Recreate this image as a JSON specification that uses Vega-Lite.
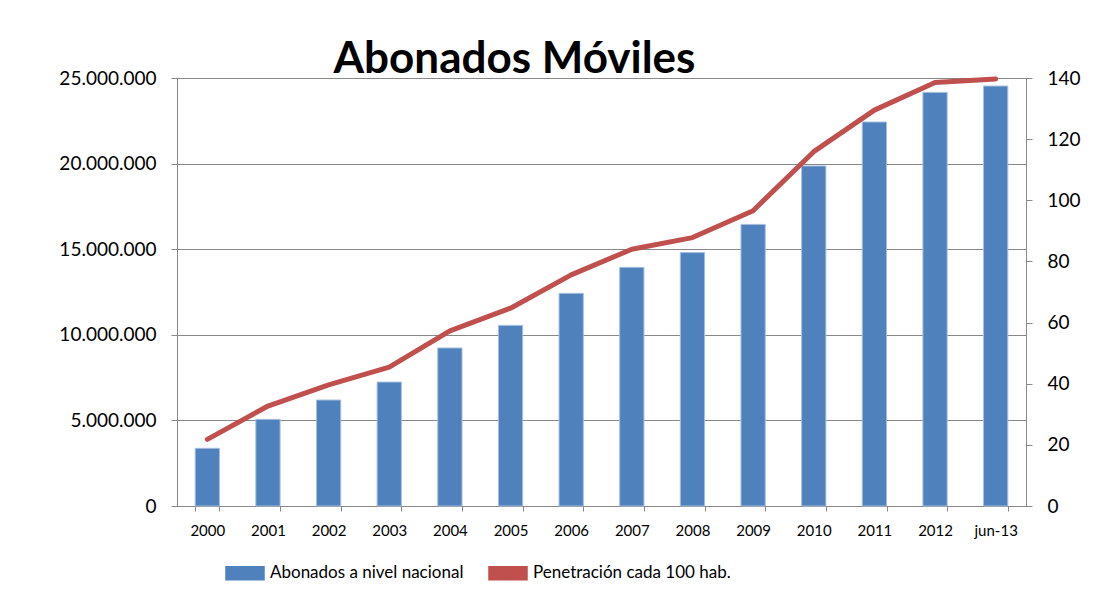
{
  "$schema": "https://vega.github.io/schema/vega-lite/v6.json",
  "width": 849,
  "height": 428,
  "autosize": {"type": "none"},
  "padding": {"left": 177, "top": 78, "right": 77, "bottom": 101},
  "background": "white",
  "title": {"text": "Abonados Móviles", "font": "Lato", "fontSize": 44, "fontWeight": "bold", "color": "black", "anchor": "middle", "dx": -87, "dy": 57, "baseline": "bottom", "offset": 0},
  "data": {"values": [
    {"periodo": "2000", "abonados": 3370000, "penetracion": 21.8},
    {"periodo": "2001", "abonados": 5060000, "penetracion": 32.7},
    {"periodo": "2002", "abonados": 6190000, "penetracion": 39.6},
    {"periodo": "2003", "abonados": 7240000, "penetracion": 45.4},
    {"periodo": "2004", "abonados": 9230000, "penetracion": 57.3},
    {"periodo": "2005", "abonados": 10550000, "penetracion": 64.7},
    {"periodo": "2006", "abonados": 12420000, "penetracion": 75.6},
    {"periodo": "2007", "abonados": 13940000, "penetracion": 84.0},
    {"periodo": "2008", "abonados": 14800000, "penetracion": 87.8},
    {"periodo": "2009", "abonados": 16450000, "penetracion": 96.6},
    {"periodo": "2010", "abonados": 19860000, "penetracion": 115.9},
    {"periodo": "2011", "abonados": 22430000, "penetracion": 129.5},
    {"periodo": "2012", "abonados": 24160000, "penetracion": 138.5},
    {"periodo": "jun-13", "abonados": 24530000, "penetracion": 139.7}
  ]},
  "encoding": {
    "x": {
      "field": "periodo", "type": "ordinal", "sort": null,
      "scale": {"paddingInner": 0.6, "paddingOuter": 0.3},
      "axis": {"title": null, "labelAngle": 0, "tickBand": "extent", "tickSize": 5, "labelPadding": 12, "domainColor": "#888888", "tickColor": "#888888", "labelFont": "Lato", "labelFontSize": 15, "labelColor": "black", "grid": false}
    }
  },
  "layer": [
    {
      "mark": {"type": "bar", "stroke": "#A7BFDE", "strokeWidth": 1},
      "encoding": {
        "y": {
          "field": "abonados", "type": "quantitative",
          "scale": {"domain": [0, 25000000], "nice": false},
          "axis": {"title": null, "orient": "left", "values": [0, 5000000, 10000000, 15000000, 20000000, 25000000], "labelExpr": "replace(format(datum.value, ','), regexp(',', 'g'), '.')", "grid": true, "gridColor": "#888888", "gridWidth": 1, "domainColor": "#888888", "tickColor": "#888888", "tickSize": 6, "labelPadding": 15, "labelFont": "Lato", "labelFontSize": 19, "labelColor": "black"}
        },
        "color": {
          "datum": "Abonados  a nivel nacional", "type": "nominal",
          "scale": {"domain": ["Abonados  a nivel nacional", "Penetración cada 100 hab."], "range": ["#4F81BD", "#C0504D"]},
          "legend": {
            "title": null, "orient": "none", "legendX": 48, "legendY": 475, "direction": "horizontal",
            "symbolType": "M-1,-0.34H1V0.34H-1Z", "symbolSize": 1444,
            "labelFont": "Lato", "labelFontSize": 17, "labelColor": "black", "labelOffset": 5, "labelLimit": 500, "columnPadding": 18,
            "encode": {
              "symbols": {"update": {
                "shape": {"signal": "datum.value === 'Abonados  a nivel nacional' ? 'M-1,-0.34H1V0.34H-1Z' : 'M-1,-0.07H1V0.07H-1Z'"},
                "fill": {"signal": "datum.value === 'Abonados  a nivel nacional' ? '#4F81BD' : '#C0504D'"},
                "strokeWidth": {"value": 0},
                "opacity": {"value": 1}
              }}
            }
          }
        }
      }
    },
    {
      "mark": {"type": "line", "strokeWidth": 5, "strokeCap": "round", "strokeJoin": "round"},
      "encoding": {
        "y": {
          "field": "penetracion", "type": "quantitative",
          "scale": {"domain": [0, 140], "nice": false},
          "axis": {"title": null, "orient": "right", "values": [0, 20, 40, 60, 80, 100, 120, 140], "grid": false, "domainColor": "#888888", "tickColor": "#888888", "tickSize": 6, "labelPadding": 15, "labelFont": "Lato", "labelFontSize": 19, "labelColor": "black"}
        },
        "color": {"datum": "Penetración cada 100 hab.", "type": "nominal"}
      }
    }
  ],
  "resolve": {"scale": {"y": "independent"}},
  "config": {"view": {"stroke": null}}
}
